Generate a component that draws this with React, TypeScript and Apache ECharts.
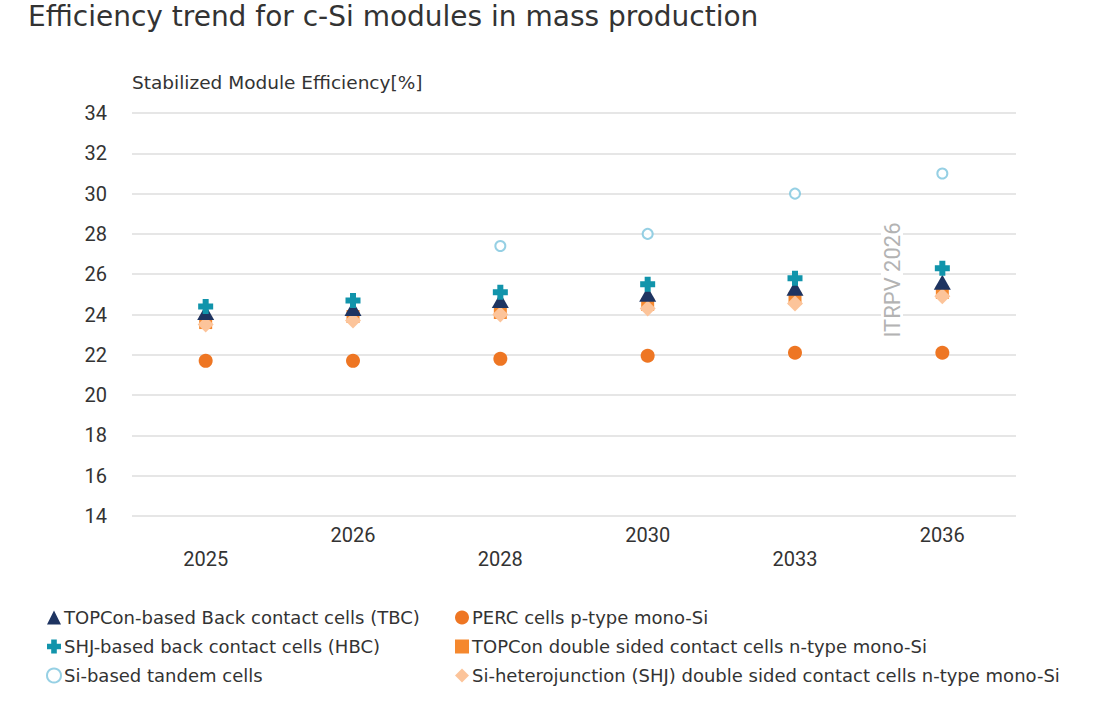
import React, { useEffect, useRef } from "react";
import * as echarts from "echarts";

const years = ["2025", "2026", "2028", "2030", "2033", "2036"];
const yTicks = { min: 14, max: 34, interval: 2 };

const tbc = [24.1, 24.3, 24.7, 25.0, 25.3, 25.6];
const hbc = [24.4, 24.7, 25.1, 25.5, 25.8, 26.3];
const tandem = [null, null, 27.4, 28.0, 30.0, 31.0];
const perc = [21.7, 21.7, 21.8, 21.95, 22.1, 22.1];
const topcon = [23.6, 23.9, 24.1, 24.5, 24.8, 25.1];
const shj = [23.5, 23.7, 24.0, 24.3, 24.55, 24.9];

const names = {
  tbc: "TOPCon-based Back contact cells (TBC)",
  hbc: "SHJ-based back contact cells (HBC)",
  tandem: "Si-based tandem cells",
  perc: "PERC cells p-type mono-Si",
  topcon: "TOPCon double sided contact cells n-type mono-Si",
  shj: "Si-heterojunction (SHJ) double sided contact cells n-type mono-Si",
};

const TEXT_FONT = "'DejaVu Sans', sans-serif";
const NUM_FONT = "Roboto, sans-serif";
const crossPath = "path://M3,0h4v3h3v4h-3v3h-4v-3h-3v-4h3z";

export default function App() {
  const ref = useRef<HTMLDivElement>(null);

  useEffect(() => {
    if (!ref.current) return;
    document.body.style.margin = "0";
    const chart = echarts.init(ref.current, undefined, { renderer: "svg" });
    const scatter = (name: string, data: (number | null)[], symbol: string, size: number | number[], color: string, extra: any = {}) => ({
      type: "scatter",
      name,
      data,
      symbol,
      symbolSize: size,
      itemStyle: { color, opacity: 1 },
      emphasis: { disabled: true },
      ...extra,
    });
    const legendText = { fontFamily: TEXT_FONT, fontSize: 18, color: "#333333", lineHeight: 19, padding: [0, 0, 0, -2] };
    chart.setOption({
      animation: false,
      textStyle: { fontFamily: TEXT_FONT },
      title: {
        text: "Efficiency trend for c-Si modules in mass production",
        left: 23,
        top: -3,
        textStyle: { fontFamily: TEXT_FONT, fontSize: 28, fontWeight: "normal", color: "#333333" },
      },
      grid: { left: 132, right: 90, top: 113, bottom: 185 },
      xAxis: {
        type: "category",
        data: years,
        boundaryGap: true,
        axisLine: { show: false },
        axisTick: { show: false },
        axisLabel: {
          fontFamily: NUM_FONT,
          fontSize: 20,
          color: "#333333",
          margin: 7,
          lineHeight: 24,
          interval: 0,
          formatter: (v: string, i: number) => (i % 2 === 0 ? "\n" + v : v),
        },
      },
      yAxis: {
        type: "value",
        min: yTicks.min,
        max: yTicks.max,
        interval: yTicks.interval,
        name: "Stabilized Module Efficiency[%]",
        nameLocation: "end",
        nameGap: 21,
        nameTextStyle: { fontFamily: TEXT_FONT, fontSize: 18.5, color: "#333333", align: "left" },
        axisLine: { show: false },
        axisTick: { show: false },
        axisLabel: { fontFamily: NUM_FONT, fontSize: 20, color: "#333333", margin: 25 },
        splitLine: { lineStyle: { color: "#e6e6e6", width: 2 } },
      },
      legend: [
        {
          orient: "vertical",
          left: 41,
          top: 603,
          itemWidth: 14,
          itemHeight: 14,
          itemGap: 10,
          textStyle: legendText,
          data: [
            names.tbc,
            names.hbc,
            { name: names.tandem, itemStyle: { borderWidth: 2 }, icon: "emptyCircle" },
          ],
        },
        {
          orient: "vertical",
          left: 450,
          top: 603,
          itemWidth: 14,
          itemHeight: 14,
          itemGap: 10,
          textStyle: legendText,
          data: [names.perc, names.topcon, names.shj],
        },
      ],
      graphic: [
        {
          type: "text",
          x: 892,
          y: 280,
          rotation: Math.PI / 2,
          z: 5,
          style: {
            text: "ITRPV 2026",
            fontFamily: NUM_FONT,
            fontSize: 22,
            fill: "#b3b3b3",
            align: "center",
            verticalAlign: "middle",
            backgroundColor: "#ffffff",
            padding: [0, 2],
          },
        },
      ],
      series: [
        scatter(names.perc, perc, "circle", 14, "#ee7623"),
        scatter(names.topcon, topcon, "rect", 13, "#f5882e"),
        scatter(names.shj, shj, "diamond", 16, "#fcc49a"),
        scatter(names.tandem, tandem, "emptyCircle", 10, "#7cc4dd", {
          itemStyle: { color: "#7cc4dd", borderWidth: 2.5 },
        }),
        scatter(names.tbc, tbc, "triangle", [17, 15], "#1e3461"),
        scatter(names.hbc, hbc, crossPath, 15, "#1194ab"),
      ],
    });
    return () => chart.dispose();
  }, []);

  return <div ref={ref} style={{ width: 1106, height: 701 }} />;
}
